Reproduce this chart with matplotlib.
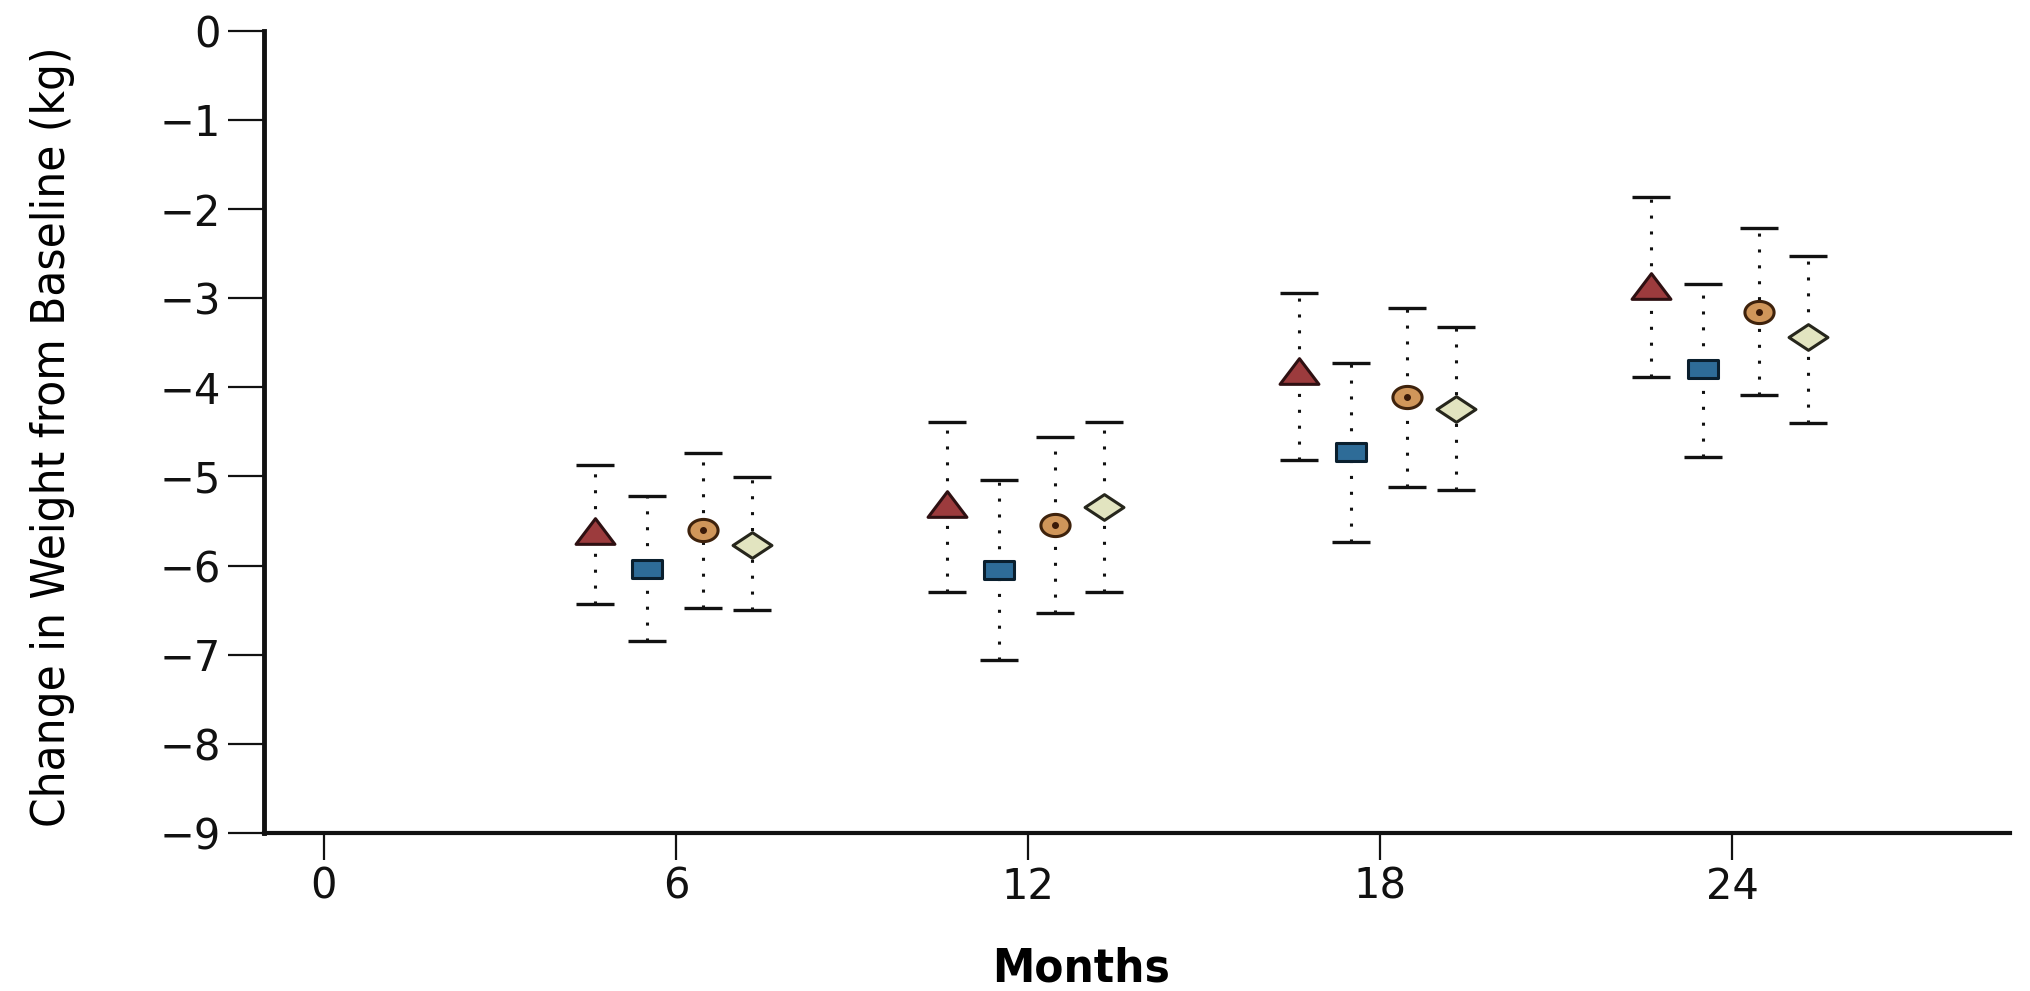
import numpy as np
import matplotlib
matplotlib.use("Agg")
import matplotlib.pyplot as plt
from matplotlib.path import Path
from matplotlib import font_manager

# Months of follow-up and the four diet groups (mean change, upper and lower CI ends)
months = [6, 12, 18, 24]

diet1_mean = [-5.61, -5.31, -3.82, -2.86]
diet1_hi = [-4.87, -4.39, -2.94, -1.86]
diet1_lo = [-6.43, -6.30, -4.81, -3.88]

diet2_mean = [-6.04, -6.05, -4.73, -3.79]
diet2_hi = [-5.22, -5.04, -3.73, -2.84]
diet2_lo = [-6.85, -7.06, -5.74, -4.78]

diet3_mean = [-5.60, -5.55, -4.11, -3.15]
diet3_hi = [-4.74, -4.56, -3.11, -2.21]
diet3_lo = [-6.48, -6.53, -5.12, -4.09]

diet4_mean = [-5.77, -5.34, -4.24, -3.44]
diet4_hi = [-5.01, -4.39, -3.32, -2.53]
diet4_lo = [-6.50, -6.30, -5.15, -4.40]

x_ticks = [0, 6, 12, 18, 24]
y_ticks = [0, -1, -2, -3, -4, -5, -6, -7, -8, -9]

# use a condensed face when there is one, else shrink the normal one
has_cond = any(f.name == 'DejaVu Sans' and f.stretch == 'condensed'
               for f in font_manager.fontManager.ttflist)
ylab_size = 34 if has_cond else 30
xlab_size = 34 if has_cond else 30


# flattened marker shapes (the reference is stretched sideways)
def shape(verts):
    verts = list(verts) + [verts[0]]
    codes = [Path.MOVETO] + [Path.LINETO] * (len(verts) - 2) + [Path.CLOSEPOLY]
    return Path(verts, codes)


tri = shape([(-1, -0.66), (1, -0.66), (0, 0.66)])
rect = shape([(-1, -0.6), (1, -0.6), (1, 0.6), (-1, 0.6)])
diam = shape([(-1, 0), (0, -0.66), (1, 0), (0, 0.66)])
t = np.linspace(0, 2 * np.pi, 60)
ell = shape(list(zip(np.cos(t[:-1]), 0.76 * np.sin(t[:-1]))))

series = [
    (diet1_mean, diet1_hi, diet1_lo, -1.38, tri, 28, '#9c3b3d', '#2e1012'),
    (diet2_mean, diet2_hi, diet2_lo, -0.49, rect, 21, '#2e6c98', '#0a1f2e'),
    (diet3_mean, diet3_hi, diet3_lo, 0.46, ell, 21, '#d0965a', '#3e220c'),
    (diet4_mean, diet4_hi, diet4_lo, 1.30, diam, 28, '#e2e4c0', '#26261c'),
]

fig = plt.figure(figsize=(20.31, 9.91), dpi=100)
ax = fig.add_axes([0.130, 0.1594, 0.8597, 0.8096])

for mean, hi, lo, off, mk, ms, fc, ec in series:
    x = np.array(months) + off
    mean = np.array(mean)
    yerr = [mean - np.array(lo), np.array(hi) - mean]
    eb = ax.errorbar(x, mean, yerr=yerr, fmt='none', ecolor='#111111',
                     elinewidth=2.2, capsize=13.5, capthick=2.4, zorder=2)
    eb[2][0].set_linestyle((0, (1, 4.2)))
    ax.plot(x, mean, linestyle='none', marker=mk, markersize=ms,
            markerfacecolor=fc, markeredgecolor=ec, markeredgewidth=2.2, zorder=3)
    if mk is ell:
        ax.plot(x, mean, linestyle='none', marker='o', markersize=4,
                color='#3a1a08', zorder=4)

ax.set_xlim(-1.02, 28.74)
ax.set_ylim(-9, 0)
ax.set_xticks(x_ticks)
ax.set_xticklabels([str(v) for v in x_ticks], fontsize=30)
ax.set_yticks(y_ticks)
ax.set_yticklabels(['0'] + ['\u2212' + str(-v) for v in y_ticks[1:]], fontsize=30)

for s in ['top', 'right']:
    ax.spines[s].set_visible(False)
ax.spines['left'].set_linewidth(3.5)
ax.spines['bottom'].set_linewidth(3.0)
ax.spines['left'].set_color('#111111')
ax.spines['bottom'].set_color('#111111')
ax.tick_params(axis='y', direction='out', length=26, width=1.6, pad=5, colors='#111111')
ax.tick_params(axis='x', direction='out', length=19.5, width=1.6, pad=4, colors='#111111')

ax.set_xlabel('Months', fontsize=xlab_size, fontweight='bold', fontstretch='condensed')
ax.xaxis.set_label_coords(0.468, -0.169)
ax.xaxis.label.set_va('center')
ax.set_ylabel('Change in Weight from Baseline (kg)', fontsize=ylab_size,
              fontstretch='condensed')
ax.yaxis.set_label_coords(-0.121, 0.494)
ax.yaxis.label.set_va('center')

plt.savefig('out.png', dpi=100)
